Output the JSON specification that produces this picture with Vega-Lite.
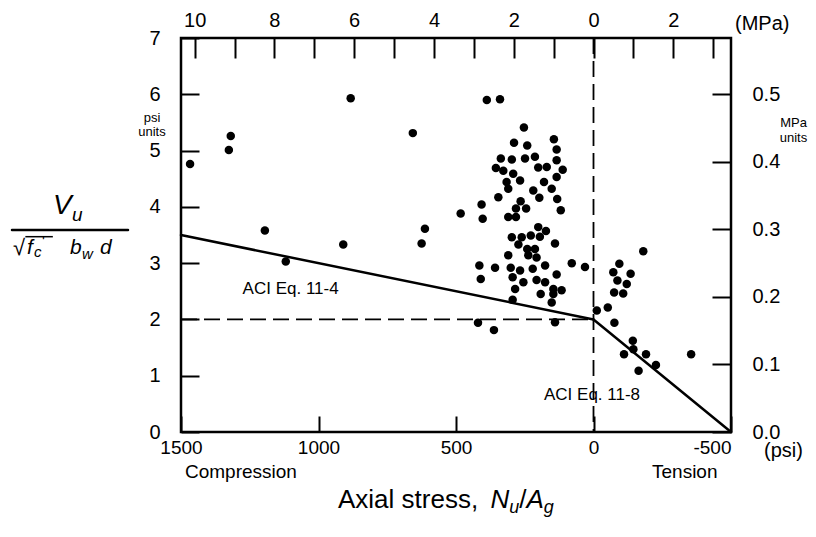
{
  "$schema": "https://vega.github.io/schema/vega-lite/v6.json",
  "width": 550,
  "height": 394,
  "autosize": {"type": "none"},
  "padding": {"left": 181, "top": 38, "right": 85, "bottom": 105},
  "background": "white",
  "config": {
    "view": {"stroke": "black", "strokeWidth": 2.5},
    "font": "Liberation Sans",
    "axis": {
      "title": null,
      "domain": false,
      "grid": false,
      "tickColor": "black",
      "tickWidth": 2,
      "labelColor": "black",
      "labelFont": "Liberation Sans",
      "labelFontSize": 20,
      "labelOverlap": false,
      "labelBound": false
    }
  },
  "datasets": {
    "tests": [
      {"psi": 1467, "v": 4.76}, {"psi": 1326, "v": 5.01}, {"psi": 1319, "v": 5.26},
      {"psi": 1195, "v": 3.58}, {"psi": 1119, "v": 3.03}, {"psi": 883, "v": 5.93},
      {"psi": 910, "v": 3.33}, {"psi": 657, "v": 5.31}, {"psi": 625, "v": 3.35},
      {"psi": 613, "v": 3.61},
      {"psi": 388, "v": 5.90}, {"psi": 340, "v": 5.91}, {"psi": 253, "v": 5.41},
      {"psi": 289, "v": 5.14}, {"psi": 241, "v": 5.09}, {"psi": 144, "v": 5.20},
      {"psi": 134, "v": 5.02}, {"psi": 337, "v": 4.86}, {"psi": 297, "v": 4.84},
      {"psi": 249, "v": 4.86}, {"psi": 213, "v": 4.89}, {"psi": 355, "v": 4.69},
      {"psi": 328, "v": 4.64}, {"psi": 292, "v": 4.59}, {"psi": 267, "v": 4.47},
      {"psi": 316, "v": 4.44}, {"psi": 310, "v": 4.32}, {"psi": 201, "v": 4.70},
      {"psi": 170, "v": 4.71}, {"psi": 134, "v": 4.83}, {"psi": 112, "v": 4.66},
      {"psi": 134, "v": 4.53}, {"psi": 180, "v": 4.44}, {"psi": 152, "v": 4.32},
      {"psi": 219, "v": 4.29}, {"psi": 197, "v": 4.16}, {"psi": 132, "v": 4.14},
      {"psi": 119, "v": 3.94}, {"psi": 346, "v": 4.17}, {"psi": 265, "v": 4.10},
      {"psi": 282, "v": 3.97}, {"psi": 245, "v": 3.97}, {"psi": 407, "v": 4.04},
      {"psi": 483, "v": 3.88}, {"psi": 403, "v": 3.79}, {"psi": 310, "v": 3.82},
      {"psi": 282, "v": 3.82}, {"psi": 201, "v": 3.64}, {"psi": 173, "v": 3.57},
      {"psi": 297, "v": 3.46}, {"psi": 261, "v": 3.46}, {"psi": 228, "v": 3.49},
      {"psi": 195, "v": 3.47}, {"psi": 273, "v": 3.33}, {"psi": 140, "v": 3.35},
      {"psi": 241, "v": 3.25}, {"psi": 213, "v": 3.25}, {"psi": 310, "v": 3.14},
      {"psi": 237, "v": 3.14}, {"psi": 207, "v": 3.10}, {"psi": 176, "v": 2.96},
      {"psi": 415, "v": 2.96}, {"psi": 358, "v": 2.92}, {"psi": 301, "v": 2.92},
      {"psi": 267, "v": 2.87}, {"psi": 221, "v": 2.90}, {"psi": 79, "v": 3.00},
      {"psi": 31, "v": 2.93}, {"psi": 410, "v": 2.72}, {"psi": 294, "v": 2.75},
      {"psi": 255, "v": 2.66}, {"psi": 207, "v": 2.70}, {"psi": 176, "v": 2.66},
      {"psi": 134, "v": 2.80}, {"psi": 285, "v": 2.54}, {"psi": 192, "v": 2.45},
      {"psi": 146, "v": 2.54}, {"psi": 116, "v": 2.52}, {"psi": 152, "v": 2.30},
      {"psi": 294, "v": 2.35}, {"psi": 146, "v": 2.45},
      {"psi": 420, "v": 1.94}, {"psi": 362, "v": 1.81}, {"psi": 140, "v": 1.95},
      {"psi": -181, "v": 3.21}, {"psi": -94, "v": 2.99}, {"psi": -72, "v": 2.84},
      {"psi": -135, "v": 2.81}, {"psi": -87, "v": 2.69}, {"psi": -121, "v": 2.63},
      {"psi": -75, "v": 2.48}, {"psi": -108, "v": 2.46}, {"psi": -12, "v": 2.16},
      {"psi": -52, "v": 2.21}, {"psi": -76, "v": 1.94}, {"psi": -143, "v": 1.62},
      {"psi": -145, "v": 1.47}, {"psi": -111, "v": 1.38}, {"psi": -191, "v": 1.38},
      {"psi": -227, "v": 1.19}, {"psi": -164, "v": 1.09}, {"psi": -355, "v": 1.38}
    ],
    "segs": [
      {"k": "solid", "psi": 1500, "v": 3.5, "psi2": 0, "v2": 2},
      {"k": "solid", "psi": 0, "v": 2, "psi2": -500, "v2": 0},
      {"k": "dash", "psi": 1500, "v": 2, "psi2": 0, "v2": 2},
      {"k": "dash", "psi": 0, "v": 7, "psi2": 0, "v2": 0},
      {"k": "bar", "psi": 2114.5, "v": 3.589, "psi2": 1692.7, "v2": 3.589},
      {"k": "vinc", "psi": 2066, "v": 3.47, "psi2": 1966, "v2": 3.47}
    ],
    "notes": [
      {"k": "lab", "t": "psi", "psi": 1605.5, "v": 5.507},
      {"k": "lab", "t": "units", "psi": 1605.5, "v": 5.259},
      {"k": "lab", "t": "MPa", "psi": -727.3, "v": 5.418},
      {"k": "lab", "t": "units", "psi": -727.3, "v": 5.152},
      {"k": "eq", "t": "ACI Eq. 11-4", "psi": 1276, "v": 2.452},
      {"k": "eq", "t": "ACI Eq. 11-8", "psi": 180, "v": 0.568},
      {"k": "unit", "t": "(MPa)", "psi": -514.5, "v": 7.142},
      {"k": "unit", "t": "(psi)", "psi": -620, "v": -0.444},
      {"k": "side", "t": "Compression", "psi": 1485.5, "v": -0.817},
      {"k": "side", "t": "Tension", "psi": -212.7, "v": -0.817},
      {"k": "ttl", "t": "Axial stress,", "psi": 929.1, "v": -1.35},
      {"k": "ttl", "t": "/", "psi": 269.8, "v": -1.35},
      {"k": "ttlI", "t": "N", "psi": 374.5, "v": -1.35},
      {"k": "ttlI", "t": "A", "psi": 243.6, "v": -1.35},
      {"k": "ttlS", "t": "u", "psi": 306.2, "v": -1.439},
      {"k": "ttlS", "t": "g", "psi": 180.7, "v": -1.439},
      {"k": "fracV", "t": "V", "psi": 1965.5, "v": 3.873},
      {"k": "fracU", "t": "u", "psi": 1896.4, "v": 3.748},
      {"k": "rad", "t": "√", "psi": 2110.9, "v": 3.144},
      {"k": "fracI", "t": "f", "psi": 2060, "v": 3.162},
      {"k": "fracI", "t": "b", "psi": 1903.6, "v": 3.162},
      {"k": "fracI", "t": "d", "psi": 1794.5, "v": 3.162},
      {"k": "fracS", "t": "c", "psi": 2034.5, "v": 3.109},
      {"k": "fracS", "t": "w", "psi": 1860, "v": 3.073},
      {"k": "prime", "t": "'", "psi": 2005.5, "v": 3.304}
    ]
  },
  "layer": [
    {
      "data": {"name": "segs"},
      "transform": [{"filter": "datum.k == 'dash'"}],
      "mark": {"type": "rule", "color": "black", "strokeWidth": 1.8, "strokeDash": [16, 7]},
      "encoding": {
        "x": {"field": "psi", "type": "quantitative", "scale": {"domain": [1500, -500], "nice": false, "zero": false}, "axis": null},
        "x2": {"field": "psi2"},
        "y": {"field": "v", "type": "quantitative", "scale": {"domain": [0, 7], "nice": false, "zero": false}, "axis": null},
        "y2": {"field": "v2"}
      }
    },
    {
      "data": {"name": "segs"},
      "transform": [{"filter": "datum.k == 'solid' || datum.k == 'bar'"}],
      "mark": {"type": "rule", "color": "black", "strokeWidth": 2.5, "strokeCap": "round", "clip": false},
      "encoding": {
        "x": {"field": "psi", "type": "quantitative", "scale": {"domain": [1500, -500], "nice": false, "zero": false},
          "axis": {"orient": "top", "values": [1450.38, 1305.34, 1160.30, 1015.27, 870.23, 725.19, 580.15, 435.11, 290.08, 145.04, 0, -145.04, -290.08, -435.11],
            "labelExpr": "abs(round(datum.value / 145.038)) % 2 == 0 ? '' + abs(round(datum.value / 145.038)) : ''",
            "tickSize": -20, "labelPadding": 28}},
        "x2": {"field": "psi2"},
        "y": {"field": "v", "type": "quantitative", "scale": {"domain": [0, 7], "nice": false, "zero": false},
          "axis": {"orient": "right", "values": [0, 1.2, 2.4, 3.6, 4.8, 6.0],
            "labelExpr": "format(datum.value / 12, '.1f')",
            "tickSize": -19, "labelPadding": 40}},
        "y2": {"field": "v2"}
      }
    },
    {
      "data": {"name": "segs"},
      "transform": [{"filter": "datum.k == 'vinc'"}],
      "mark": {"type": "rule", "color": "black", "strokeWidth": 1.5, "clip": false},
      "encoding": {
        "x": {"field": "psi", "type": "quantitative", "scale": {"domain": [1500, -500], "nice": false, "zero": false}, "axis": null},
        "x2": {"field": "psi2"},
        "y": {"field": "v", "type": "quantitative", "scale": {"domain": [0, 7], "nice": false, "zero": false}, "axis": null},
        "y2": {"field": "v2"}
      }
    },
    {
      "data": {"name": "tests"},
      "mark": {"type": "circle", "size": 72, "color": "black", "opacity": 1},
      "encoding": {
        "x": {"field": "psi", "type": "quantitative", "scale": {"domain": [1500, -500], "nice": false, "zero": false},
          "axis": {"orient": "bottom", "values": [1500, 1000, 500, 0, -500], "labelExpr": "'' + datum.value",
            "labelAlign": {"condition": {"test": "datum.value == -500", "value": "right"}, "value": "center"},
            "labelFontSize": 19, "tickSize": -16, "labelPadding": 22}},
        "y": {"field": "v", "type": "quantitative", "scale": {"domain": [0, 7], "nice": false, "zero": false},
          "axis": {"orient": "left", "values": [0, 1, 2, 3, 4, 5, 6, 7], "labelExpr": "'' + datum.value",
            "tickSize": -18, "labelPadding": 39}}
      }
    },
    {
      "data": {"name": "notes"},
      "transform": [{"filter": "datum.k == 'lab'"}],
      "mark": {"type": "text", "align": "center", "baseline": "alphabetic", "fontSize": 13, "clip": false, "color": "black"},
      "encoding": {
        "x": {"field": "psi", "type": "quantitative", "scale": {"domain": [1500, -500], "nice": false, "zero": false}, "axis": null},
        "y": {"field": "v", "type": "quantitative", "scale": {"domain": [0, 7], "nice": false, "zero": false}, "axis": null},
        "text": {"field": "t"}
      }
    },
    {
      "data": {"name": "notes"},
      "transform": [{"filter": "datum.k == 'eq'"}],
      "mark": {"type": "text", "align": "left", "baseline": "alphabetic", "fontSize": 17, "clip": false, "color": "black"},
      "encoding": {
        "x": {"field": "psi", "type": "quantitative", "scale": {"domain": [1500, -500], "nice": false, "zero": false}, "axis": null},
        "y": {"field": "v", "type": "quantitative", "scale": {"domain": [0, 7], "nice": false, "zero": false}, "axis": null},
        "text": {"field": "t"}
      }
    },
    {
      "data": {"name": "notes"},
      "transform": [{"filter": "datum.k == 'unit'"}],
      "mark": {"type": "text", "align": "left", "baseline": "alphabetic", "fontSize": 20, "clip": false, "color": "black"},
      "encoding": {
        "x": {"field": "psi", "type": "quantitative", "scale": {"domain": [1500, -500], "nice": false, "zero": false}, "axis": null},
        "y": {"field": "v", "type": "quantitative", "scale": {"domain": [0, 7], "nice": false, "zero": false}, "axis": null},
        "text": {"field": "t"}
      }
    },
    {
      "data": {"name": "notes"},
      "transform": [{"filter": "datum.k == 'side'"}],
      "mark": {"type": "text", "align": "left", "baseline": "alphabetic", "fontSize": 19, "clip": false, "color": "black"},
      "encoding": {
        "x": {"field": "psi", "type": "quantitative", "scale": {"domain": [1500, -500], "nice": false, "zero": false}, "axis": null},
        "y": {"field": "v", "type": "quantitative", "scale": {"domain": [0, 7], "nice": false, "zero": false}, "axis": null},
        "text": {"field": "t"}
      }
    },
    {
      "data": {"name": "notes"},
      "transform": [{"filter": "datum.k == 'ttl'"}],
      "mark": {"type": "text", "align": "left", "baseline": "alphabetic", "fontSize": 26, "clip": false, "color": "black"},
      "encoding": {
        "x": {"field": "psi", "type": "quantitative", "scale": {"domain": [1500, -500], "nice": false, "zero": false}, "axis": null},
        "y": {"field": "v", "type": "quantitative", "scale": {"domain": [0, 7], "nice": false, "zero": false}, "axis": null},
        "text": {"field": "t"}
      }
    },
    {
      "data": {"name": "notes"},
      "transform": [{"filter": "datum.k == 'ttlI'"}],
      "mark": {"type": "text", "align": "left", "baseline": "alphabetic", "fontSize": 26, "fontStyle": "italic", "clip": false, "color": "black"},
      "encoding": {
        "x": {"field": "psi", "type": "quantitative", "scale": {"domain": [1500, -500], "nice": false, "zero": false}, "axis": null},
        "y": {"field": "v", "type": "quantitative", "scale": {"domain": [0, 7], "nice": false, "zero": false}, "axis": null},
        "text": {"field": "t"}
      }
    },
    {
      "data": {"name": "notes"},
      "transform": [{"filter": "datum.k == 'ttlS'"}],
      "mark": {"type": "text", "align": "left", "baseline": "alphabetic", "fontSize": 18, "fontStyle": "italic", "clip": false, "color": "black"},
      "encoding": {
        "x": {"field": "psi", "type": "quantitative", "scale": {"domain": [1500, -500], "nice": false, "zero": false}, "axis": null},
        "y": {"field": "v", "type": "quantitative", "scale": {"domain": [0, 7], "nice": false, "zero": false}, "axis": null},
        "text": {"field": "t"}
      }
    },
    {
      "data": {"name": "notes"},
      "transform": [{"filter": "datum.k == 'fracV'"}],
      "mark": {"type": "text", "align": "left", "baseline": "alphabetic", "fontSize": 28, "fontStyle": "italic", "clip": false, "color": "black"},
      "encoding": {
        "x": {"field": "psi", "type": "quantitative", "scale": {"domain": [1500, -500], "nice": false, "zero": false}, "axis": null},
        "y": {"field": "v", "type": "quantitative", "scale": {"domain": [0, 7], "nice": false, "zero": false}, "axis": null},
        "text": {"field": "t"}
      }
    },
    {
      "data": {"name": "notes"},
      "transform": [{"filter": "datum.k == 'fracU'"}],
      "mark": {"type": "text", "align": "left", "baseline": "alphabetic", "fontSize": 19, "fontStyle": "italic", "clip": false, "color": "black"},
      "encoding": {
        "x": {"field": "psi", "type": "quantitative", "scale": {"domain": [1500, -500], "nice": false, "zero": false}, "axis": null},
        "y": {"field": "v", "type": "quantitative", "scale": {"domain": [0, 7], "nice": false, "zero": false}, "axis": null},
        "text": {"field": "t"}
      }
    },
    {
      "data": {"name": "notes"},
      "transform": [{"filter": "datum.k == 'rad'"}],
      "mark": {"type": "text", "align": "left", "baseline": "alphabetic", "fontSize": 22, "clip": false, "color": "black"},
      "encoding": {
        "x": {"field": "psi", "type": "quantitative", "scale": {"domain": [1500, -500], "nice": false, "zero": false}, "axis": null},
        "y": {"field": "v", "type": "quantitative", "scale": {"domain": [0, 7], "nice": false, "zero": false}, "axis": null},
        "text": {"field": "t"}
      }
    },
    {
      "data": {"name": "notes"},
      "transform": [{"filter": "datum.k == 'fracI'"}],
      "mark": {"type": "text", "align": "left", "baseline": "alphabetic", "fontSize": 21, "fontStyle": "italic", "clip": false, "color": "black"},
      "encoding": {
        "x": {"field": "psi", "type": "quantitative", "scale": {"domain": [1500, -500], "nice": false, "zero": false}, "axis": null},
        "y": {"field": "v", "type": "quantitative", "scale": {"domain": [0, 7], "nice": false, "zero": false}, "axis": null},
        "text": {"field": "t"}
      }
    },
    {
      "data": {"name": "notes"},
      "transform": [{"filter": "datum.k == 'fracS'"}],
      "mark": {"type": "text", "align": "left", "baseline": "alphabetic", "fontSize": 15, "fontStyle": "italic", "clip": false, "color": "black"},
      "encoding": {
        "x": {"field": "psi", "type": "quantitative", "scale": {"domain": [1500, -500], "nice": false, "zero": false}, "axis": null},
        "y": {"field": "v", "type": "quantitative", "scale": {"domain": [0, 7], "nice": false, "zero": false}, "axis": null},
        "text": {"field": "t"}
      }
    },
    {
      "data": {"name": "notes"},
      "transform": [{"filter": "datum.k == 'prime'"}],
      "mark": {"type": "text", "align": "left", "baseline": "alphabetic", "fontSize": 15, "clip": false, "color": "black"},
      "encoding": {
        "x": {"field": "psi", "type": "quantitative", "scale": {"domain": [1500, -500], "nice": false, "zero": false}, "axis": null},
        "y": {"field": "v", "type": "quantitative", "scale": {"domain": [0, 7], "nice": false, "zero": false}, "axis": null},
        "text": {"field": "t"}
      }
    }
  ],
  "resolve": {"axis": {"x": "independent", "y": "independent"}}
}
